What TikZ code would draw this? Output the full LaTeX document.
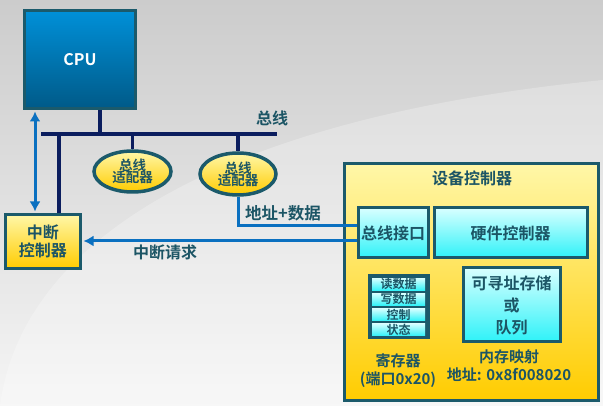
\documentclass[tikz,border=0pt]{standalone}
\usepackage{fontspec}
\setmainfont{Noto Sans CJK SC}[BoldFont={Noto Sans CJK SC Bold}]
\usetikzlibrary{arrows.meta,shapes.geometric,calc}
\definecolor{bd}{HTML}{1B5A6B}
\definecolor{navy}{HTML}{0B1D5E}
\definecolor{lblue}{HTML}{0A70C0}
\definecolor{tx}{HTML}{1C5565}
\definecolor{ylt}{HTML}{FFF7A8}
\definecolor{ydk}{HTML}{FFCC00}
\definecolor{clt}{HTML}{D8FFFF}
\definecolor{cdk}{HTML}{2EF2F8}
\definecolor{cputop}{HTML}{0090D8}
\definecolor{cpubot}{HTML}{005A88}
\tikzset{
  box/.style={draw=bd, line width=3pt, inner sep=0pt, align=center, text=tx, font=\bfseries\fontsize{16}{18}\selectfont},
  ybox/.style={box, top color=ylt, bottom color=ydk},
  cbox/.style={box, top color=clt, bottom color=cdk},
  adapter/.style={ellipse, draw=bd, line width=3.5pt, inner sep=0pt, top color=ylt, bottom color=ydk, align=center, text=tx, font=\bfseries\fontsize{13.5}{14}\selectfont},
  busline/.style={navy, line width=3.5pt},
  bline/.style={lblue, line width=3pt},
  lbl/.style={text=tx, font=\bfseries\fontsize{16}{18}\selectfont, align=center, inner sep=0pt},
  cell/.style={draw=none, top color=clt, bottom color=cdk, inner sep=0pt, minimum width=53pt, minimum height=12.5pt, text=tx, font=\bfseries\fontsize{12}{12}\selectfont},
  tip/.style={-{Latex[length=10pt,width=11pt]}}
}
\begin{document}
\begin{tikzpicture}[x=1pt,y=-1pt]
\useasboundingbox (0,0) rectangle (603,406);
\fill[top color=black!20, bottom color=black!4] (0,0) rectangle (603,406);
\fill[white, opacity=0.25] (0,406) .. controls (20,250) and (200,120) .. (603,80) -- (603,406) -- cycle;

% CPU
\node[box, minimum width=111pt, minimum height=98pt, top color=cputop, bottom color=cpubot, text=white, font=\bfseries\fontsize{16}{18}\selectfont] (cpu) at (80,59.5) {CPU};

% bus
\coordinate (busL) at (41,134);
\coordinate (busR) at (277,134);
\coordinate (x100) at (100,0);
\coordinate (x59) at (59,0);
\coordinate (x35) at (35,0);

\node[ybox, minimum width=75pt, minimum height=54pt] (ictrl) at (43,241.5) {中断\\控制器};

\node[adapter, minimum width=77pt, minimum height=41pt] (a1) at (132.5,171.5) {总线\\[-2pt]适配器};
\node[adapter, minimum width=76pt, minimum height=42pt] (a2) at (238,174) {总线\\[-2pt]适配器};

% device controller
\node[box, minimum width=254pt, minimum height=237pt, top color=ylt, bottom color=ydk] (dev) at (471.5,282) {};
\node[lbl] (devt) at (472,178) {设备控制器};
\node[cbox, minimum width=70pt, minimum height=50pt] (busif) at (393,233) {总线接口};
\node[cbox, minimum width=153pt, minimum height=50pt] (hw) at (510.5,233) {硬件控制器};
\node[cbox, minimum width=97pt, minimum height=74pt, font=\bfseries\fontsize{16}{22}\selectfont] (stor) at (511.5,305) {可寻址存储\\或\\队列};

\node[draw=bd, fill=bd, line width=1pt, minimum width=61pt, minimum height=64pt, inner sep=0pt] (regs) at (398.5,307) {};
\node[cell] (r1) at (398.5,284.3) {读数据};
\node[cell] (r2) at (398.5,299.4) {写数据};
\node[cell] (r3) at (398.5,314.6) {控制};
\node[cell] (r4) at (398.5,329.7) {状态};

\node[lbl, font=\bfseries\fontsize{15}{18}\selectfont] (regl) at (398,371) {寄存器\\(端口0x20)};
\node[lbl, font=\bfseries\fontsize{15}{18}\selectfont] (meml) at (509,366) {内存映射\\地址: 0x8f008020};

% connectors
\draw[busline] (busL) -- (busR);
\draw[busline] (cpu.south -| x100) -- (busL -| x100);
\draw[busline] (busL -| x59) -- (ictrl.north -| x59);
\draw[busline] (a1.north |- busL) -- (a1.north);
\draw[busline] (a2.north |- busL) -- (a2.north);

\draw[bline, {Latex[length=10pt,width=11pt]}-{Latex[length=10pt,width=11pt]}] ($(cpu.south -| x35)+(0,1.5)$) -- ($(ictrl.north -| x35)+(0,-1.5)$);
\coordinate (adin) at ($(busif.west)+(0,-7)$);
\coordinate (irq) at ($(busif.west)+(0,8)$);
\draw[bline] (a2.south) |- (adin);
\draw[bline, tip] (irq) -- ($(ictrl.east |- irq)+(1.5,0)$);

\node[lbl] (bus) at (272,118) {总线};
\node[lbl, font=\bfseries\fontsize{16.5}{18}\selectfont] (addr) at (283,213) {地址+数据};
\node[lbl] (irql) at (165,252) {中断请求};
\end{tikzpicture}
\end{document}
